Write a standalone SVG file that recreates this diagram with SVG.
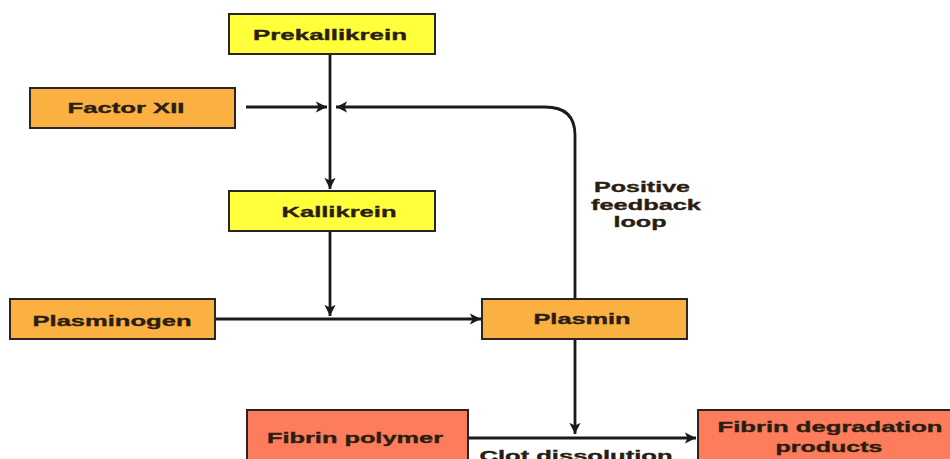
<svg xmlns="http://www.w3.org/2000/svg" width="950" height="459" viewBox="0 0 950 459">
<style>
.box{stroke:#2b2522;stroke-width:2}
.y{fill:#FFFF3C}
.o{fill:#FBB042}
.s{fill:#FC7C5C}
.t{font-family:"Liberation Sans",Arial,sans-serif;font-weight:bold;font-size:15px;fill:#2a1d12;stroke:#2a1d12;stroke-width:0.35;text-anchor:middle}
.c{fill:none;stroke:#1a1a1a;stroke-width:2.8}
</style>
<defs>
<marker id="ah" viewBox="0 0 10 10" refX="10" refY="5" markerWidth="4" markerHeight="4" orient="auto" markerUnits="strokeWidth">
<path d="M0,0 L10,5 L0,10 L2.5,5 z" fill="#1a1a1a"/>
</marker>
</defs>
<rect width="950" height="459" fill="#ffffff"/>
<g id="connectors">
<path class="c" d="M330,54 V189" marker-end="url(#ah)"/>
<path class="c" d="M246,107 H327" marker-end="url(#ah)"/>
<path class="c" d="M575,298 V135 Q575,107 545,107 H336" marker-end="url(#ah)"/>
<path class="c" d="M330,231 V316" marker-end="url(#ah)"/>
<path class="c" d="M216,319 H481" marker-end="url(#ah)"/>
<path class="c" d="M575,339 V434" marker-end="url(#ah)"/>
<path class="c" d="M468,438 H696" marker-end="url(#ah)"/>
</g>
<g id="prekallikrein">
<rect class="box y" x="229" y="14" width="206" height="40"/>
<text class="t" x="330" y="40" textLength="154" lengthAdjust="spacingAndGlyphs">Prekallikrein</text>
</g>
<g id="factor-xii">
<rect class="box o" x="30" y="88" width="205" height="40"/>
<text class="t" x="126" y="113" textLength="117" lengthAdjust="spacingAndGlyphs">Factor XII</text>
</g>
<g id="kallikrein">
<rect class="box y" x="229" y="191" width="206" height="40"/>
<text class="t" x="339" y="217" textLength="115" lengthAdjust="spacingAndGlyphs">Kallikrein</text>
</g>
<g id="plasminogen">
<rect class="box o" x="10" y="299" width="205" height="40"/>
<text class="t" x="112" y="326" textLength="159" lengthAdjust="spacingAndGlyphs">Plasminogen</text>
</g>
<g id="plasmin">
<rect class="box o" x="482" y="299" width="205" height="40"/>
<text class="t" x="582" y="324" textLength="97" lengthAdjust="spacingAndGlyphs">Plasmin</text>
</g>
<g id="feedback-label">
<text class="t" x="642" y="192" textLength="96" lengthAdjust="spacingAndGlyphs">Positive</text>
<text class="t" x="646" y="210" textLength="110" lengthAdjust="spacingAndGlyphs">feedback</text>
<text class="t" x="640" y="227" textLength="53" lengthAdjust="spacingAndGlyphs">loop</text>
</g>
<g id="fibrin-polymer">
<rect class="box s" x="247" y="410" width="221" height="60"/>
<text class="t" x="355" y="443" textLength="176" lengthAdjust="spacingAndGlyphs">Fibrin polymer</text>
</g>
<g id="fibrin-degradation-products">
<rect class="box s" x="698" y="410" width="260" height="60"/>
<text class="t" x="830" y="432" textLength="225" lengthAdjust="spacingAndGlyphs">Fibrin degradation</text>
<text class="t" x="829" y="452" textLength="107" lengthAdjust="spacingAndGlyphs">products</text>
</g>
<g id="clot-label">
<text class="t" x="576" y="461" textLength="193" lengthAdjust="spacingAndGlyphs">Clot dissolution</text>
</g>
</svg>
